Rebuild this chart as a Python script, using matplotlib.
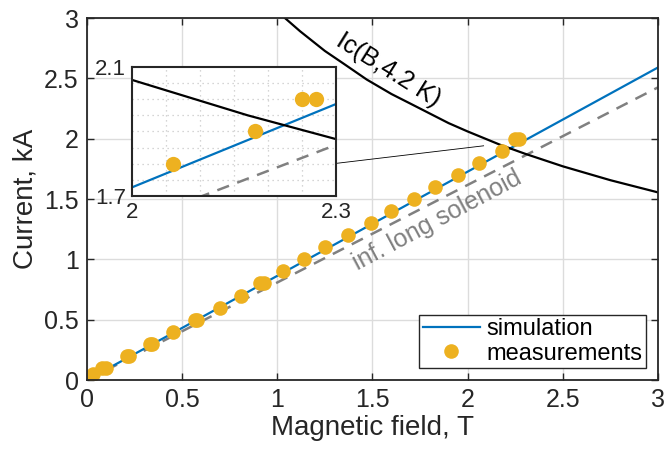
import matplotlib
matplotlib.use("Agg")
import matplotlib.pyplot as plt
from matplotlib.ticker import MultipleLocator, FixedLocator, FormatStrFormatter

plt.rcParams['font.family'] = ['Liberation Sans', 'DejaVu Sans']

# simulated current vs. field
sim_B = [0.0, 3.0]
sim_I = [0.0, 2.59]

# infinitely long solenoid estimate
sol_B = [0.0, 3.0]
sol_I = [0.0, 2.425]

# critical current at 4.2 K
ic_B = [1.04, 1.12, 1.25, 1.35, 1.47, 1.60, 1.70, 1.90, 2.00, 2.17, 2.30, 2.50, 2.75, 3.00]
ic_I = [3.00, 2.89, 2.727, 2.62, 2.49, 2.37, 2.29, 2.129, 2.06, 1.95, 1.876, 1.771, 1.656, 1.555]

# measured points
meas_B = [0.03, 0.08, 0.10, 0.21, 0.22, 0.33, 0.34, 0.45, 0.57, 0.58, 0.70, 0.81,
          0.91, 0.93, 1.03, 1.14, 1.25, 1.37, 1.49, 1.60, 1.72, 1.83, 1.95, 2.06,
          2.18, 2.25, 2.27]
meas_I = [0.05, 0.10, 0.10, 0.20, 0.20, 0.30, 0.30, 0.40, 0.50, 0.50, 0.60, 0.70,
          0.80, 0.80, 0.90, 1.00, 1.10, 1.20, 1.30, 1.40, 1.50, 1.60, 1.70, 1.80,
          1.90, 2.00, 2.00]

# zoom connector (main axes data coords)
conn_B = [1.307, 2.084]
conn_I = [1.795, 1.941]

blue = '#0072BD'
gold = '#EDB120'
gray = '#808080'
axcol = '#262626'

fig = plt.figure(figsize=(6.65, 4.55), dpi=100)
ax = fig.add_axes([0.1308, 0.1648, 0.8586, 0.7956])

ax.plot(sol_B, sol_I, '--', color=gray, lw=1.8, dashes=(5, 3.5))
ax.plot(sim_B, sim_I, '-', color=blue, lw=1.6, label='simulation')
ax.plot(ic_B, ic_I, '-', color='black', lw=1.6)
ax.plot(meas_B, meas_I, 'o', color=gold, ms=10.5, mec='none', label='measurements')
ax.plot(conn_B, conn_I, '-', color='black', lw=0.6)

ax.set_xlim(0, 3)
ax.set_ylim(0, 3)
ax.xaxis.set_major_locator(MultipleLocator(0.5))
ax.yaxis.set_major_locator(MultipleLocator(0.5))
ax.xaxis.set_major_formatter(FormatStrFormatter('%g'))
ax.yaxis.set_major_formatter(FormatStrFormatter('%g'))
ax.grid(True, color='#dcdcdc', lw=1.0)
ax.set_axisbelow(True)
for s in ax.spines.values():
    s.set_color(axcol)
    s.set_linewidth(1.3)
ax.tick_params(direction='in', top=True, right=True, colors=axcol,
               labelsize=18, length=5, width=1.0, labelcolor=axcol, pad=6)
ax.set_xlabel('Magnetic field, T', fontsize=20, color=axcol, labelpad=2)
ax.set_ylabel('Current, kA', fontsize=20, color=axcol, labelpad=4)

ax.text(1.586, 2.57, 'Ic(B,4.2 K)', fontsize=18, rotation=-32,
        ha='center', va='center', color='black')
ax.text(1.84, 1.32, 'inf. long solenoid', fontsize=18, rotation=28,
        ha='center', va='center', color=gray)

leg = ax.legend(loc='lower right', fontsize=17, frameon=True, fancybox=False,
                edgecolor=axcol, borderpad=0.15, handlelength=2.4,
                handletextpad=0.3, labelspacing=0.1, borderaxespad=0.5,
                framealpha=1.0)
leg.get_frame().set_linewidth(1.0)

# inset zoom around the crossing point
ins = fig.add_axes([0.198, 0.569, 0.308, 0.284])
ins.plot(sol_B, sol_I, '--', color=gray, lw=1.8, dashes=(5, 3.5))
ins.plot(sim_B, sim_I, '-', color=blue, lw=1.6)
ins.plot(ic_B, ic_I, '-', color='black', lw=1.6)
ins.plot(meas_B, meas_I, 'o', color=gold, ms=11, mec='none')
ins.set_xlim(2, 2.3)
ins.set_ylim(1.7, 2.1)
ins.xaxis.set_major_locator(FixedLocator([2, 2.3]))
ins.yaxis.set_major_locator(FixedLocator([1.7, 2.1]))
ins.xaxis.set_minor_locator(MultipleLocator(0.05))
ins.yaxis.set_minor_locator(MultipleLocator(0.05))
ins.xaxis.set_major_formatter(FormatStrFormatter('%g'))
ins.yaxis.set_major_formatter(FormatStrFormatter('%g'))
ins.grid(True, which='minor', color='#c8c8c8', lw=0.9, ls=(0, (1, 3)))
ins.set_axisbelow(True)
for s in ins.spines.values():
    s.set_color(axcol)
    s.set_linewidth(1.5)
ins.tick_params(which='both', length=0, labelsize=16, colors=axcol, pad=4)
ins.set_facecolor('white')

fig.savefig('out.png', dpi=100)
